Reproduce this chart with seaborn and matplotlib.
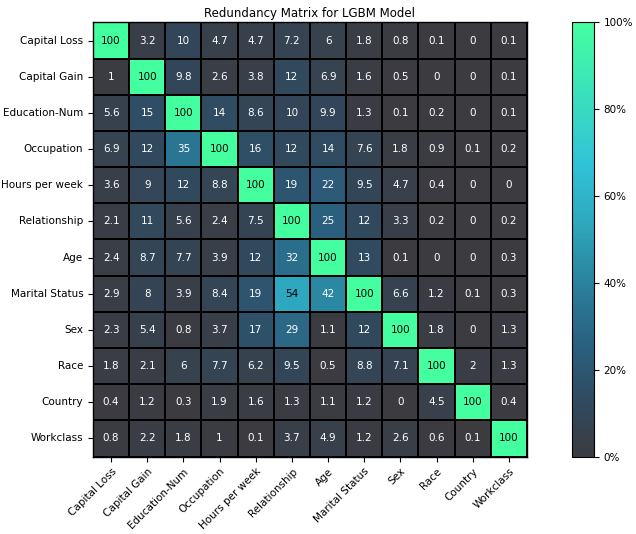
import numpy as np
import pandas as pd
import matplotlib
matplotlib.use("Agg")
import matplotlib.pyplot as plt
import seaborn as sns
from matplotlib.colors import LinearSegmentedColormap
from matplotlib.ticker import PercentFormatter

features = ["Capital Loss", "Capital Gain", "Education-Num", "Occupation",
            "Hours per week", "Relationship", "Age", "Marital Status",
            "Sex", "Race", "Country", "Workclass"]

row_capital_loss = [100, 3.2, 10, 4.7, 4.7, 7.2, 6, 1.8, 0.8, 0.1, 0, 0.1]
row_capital_gain = [1, 100, 9.8, 2.6, 3.8, 12, 6.9, 1.6, 0.5, 0, 0, 0.1]
row_education = [5.6, 15, 100, 14, 8.6, 10, 9.9, 1.3, 0.1, 0.2, 0, 0.1]
row_occupation = [6.9, 12, 35, 100, 16, 12, 14, 7.6, 1.8, 0.9, 0.1, 0.2]
row_hours = [3.6, 9, 12, 8.8, 100, 19, 22, 9.5, 4.7, 0.4, 0, 0]
row_relationship = [2.1, 11, 5.6, 2.4, 7.5, 100, 25, 12, 3.3, 0.2, 0, 0.2]
row_age = [2.4, 8.7, 7.7, 3.9, 12, 32, 100, 13, 0.1, 0, 0, 0.3]
row_marital = [2.9, 8, 3.9, 8.4, 19, 54, 42, 100, 6.6, 1.2, 0.1, 0.3]
row_sex = [2.3, 5.4, 0.8, 3.7, 17, 29, 1.1, 12, 100, 1.8, 0, 1.3]
row_race = [1.8, 2.1, 6, 7.7, 6.2, 9.5, 0.5, 8.8, 7.1, 100, 2, 1.3]
row_country = [0.4, 1.2, 0.3, 1.9, 1.6, 1.3, 1.1, 1.2, 0, 4.5, 100, 0.4]
row_workclass = [0.8, 2.2, 1.8, 1, 0.1, 3.7, 4.9, 1.2, 2.6, 0.6, 0.1, 100]

rows = [row_capital_loss, row_capital_gain, row_education, row_occupation,
        row_hours, row_relationship, row_age, row_marital, row_sex, row_race,
        row_country, row_workclass]

df = pd.DataFrame(rows, index=features, columns=features)

cmap = LinearSegmentedColormap.from_list(
    "redund",
    [(0.0, "#3c3b40"), (0.12, "#31495e"), (0.25, "#2a5f7e"),
     (0.35, "#2a7592"), (0.54, "#2ea8be"), (0.67, "#31c2d8"),
     (1.0, "#44ffa0")])

fig = plt.figure(figsize=(6.36, 5.34), dpi=100)
ax = fig.add_axes([0.1462, 0.1442, 0.6824, 0.8146])
cax = fig.add_axes([0.8994, 0.1442, 0.0346, 0.8146])

sns.heatmap(df, ax=ax, cbar_ax=cax, cmap=cmap, vmin=0, vmax=100,
            annot=True, fmt="g", annot_kws={"fontsize": 7.5},
            linewidths=1.3, linecolor="black", square=True,
            cbar_kws={"format": PercentFormatter(decimals=0),
                      "ticks": [0, 20, 40, 60, 80, 100]})

# text colour: dark on bright cells (>= 50%), light otherwise
for t in ax.texts:
    try:
        v = float(t.get_text())
    except ValueError:
        continue
    t.set_color("black" if v >= 50 else "white")

for sp in ax.spines.values():
    sp.set_visible(True)
    sp.set_color("black")
    sp.set_linewidth(1)

ax.set_title("Redundancy Matrix for LGBM Model", fontsize=8.5, pad=4)
ax.set_xticklabels(ax.get_xticklabels(), rotation=45, ha="right",
                   rotation_mode="anchor", fontsize=7.5)
ax.set_yticklabels(ax.get_yticklabels(), rotation=0, fontsize=7.5)
ax.set_xlabel("")
ax.set_ylabel("")
cax.tick_params(labelsize=7.5)
cbar = ax.collections[0].colorbar
cbar.outline.set_visible(True)
cbar.outline.set_edgecolor("black")
cbar.outline.set_linewidth(0.8)

fig.savefig("out.png", dpi=100, facecolor="white")
